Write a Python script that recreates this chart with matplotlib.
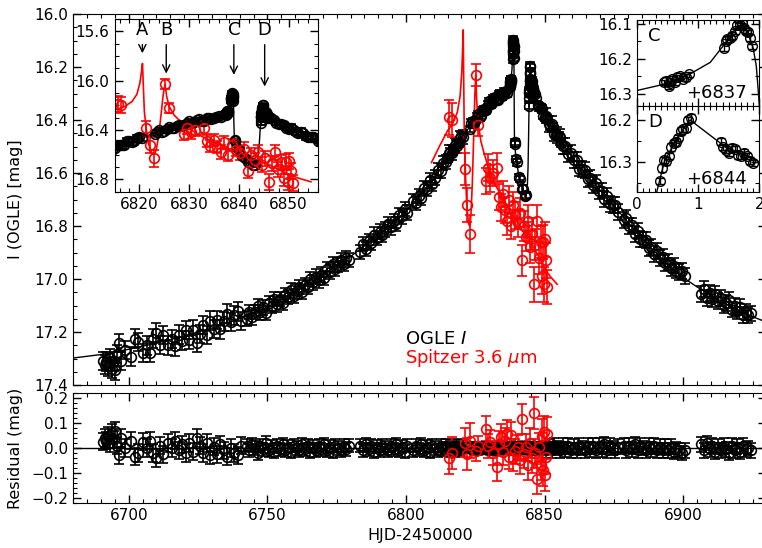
import numpy as np
import matplotlib.pyplot as plt
from matplotlib.ticker import MultipleLocator

# ── 1. Data ───────────────────────────────────────────────────────────────
# OGLE I-band photometry: time, magnitude, residual from the model
ogle_t = [
    # early season, sparse
    6690.8, 6691.3, 6691.9, 6692.6, 6693.2, 6693.8, 6694.5, 6695.1, 6695.8, 6696.4, 6697.2, 6698.5,
    6700.8, 6702.3, 6703.5, 6705.0, 6706.4, 6707.6, 6708.9, 6710.0, 6711.2, 6712.5, 6714.3, 6715.6,
    6716.8, 6718.0, 6719.3, 6720.6, 6721.8, 6723.0, 6724.5, 6725.7, 6726.9, 6728.1, 6729.4, 6730.6,
    6731.8, 6733.0, 6734.2, 6735.4, 6736.7, 6738.0, 6739.3, 6740.5,
    # dense rising part
    6742.5, 6743.5, 6744.5, 6745.5, 6746.5, 6747.5, 6748.5, 6749.5, 6750.5, 6751.5,
    6752.5, 6753.5, 6754.5, 6755.5, 6756.5, 6757.5, 6758.5, 6759.5, 6760.5, 6761.5,
    6762.5, 6763.5, 6764.5, 6765.5, 6766.5, 6767.5, 6768.5, 6769.5, 6770.5, 6771.5,
    6772.5, 6773.5, 6774.5, 6775.5, 6776.5, 6777.5, 6778.5, 6779.5,
    6783.5, 6784.5, 6785.5, 6786.5, 6787.5, 6788.5, 6789.5, 6790.5, 6791.5, 6792.5, 6793.5, 6794.5,
    6795.5, 6796.5, 6797.5, 6798.5, 6799.5, 6800.5,
    6802.5, 6803.5, 6804.5, 6805.5, 6806.5, 6807.5, 6808.5, 6809.5, 6810.5, 6811.5,
    6812.5, 6813.5, 6814.5, 6815.5, 6816.5, 6817.5, 6818.5, 6819.5, 6820.5,
    # around the caustic crossings
    6823.2, 6824.0, 6825.0, 6826.0, 6827.0, 6828.0, 6829.0, 6830.0, 6831.0, 6832.0, 6833.0, 6834.0,
    6835.0, 6836.0,
    6837.45, 6837.55, 6837.65, 6837.75, 6837.85, 6838.45, 6838.52, 6838.60, 6838.68, 6838.75,
    6838.82, 6838.88,
    6839.15, 6839.3, 6839.6, 6840.0, 6840.6, 6841.2, 6841.8, 6842.3, 6842.8, 6843.2,
    6844.38, 6844.45, 6844.52, 6844.60, 6844.68, 6844.76, 6844.84,
    6845.4, 6845.5, 6845.6, 6845.7, 6845.8, 6845.9,
    6846.5, 6847.5, 6848.5, 6849.5,
    # decline
    6850.5, 6851.5, 6852.5, 6853.5, 6854.5, 6855.5, 6856.5, 6857.5, 6858.5, 6859.5,
    6860.5, 6861.5, 6862.5, 6863.5, 6864.5, 6865.5, 6866.5, 6867.5, 6868.5,
    6869.5, 6870.5, 6871.5, 6872.5, 6873.5, 6874.5, 6875.5, 6876.3,
    6878.5, 6879.5, 6880.5, 6881.5, 6882.5, 6883.5, 6884.5, 6885.5, 6886.5, 6887.5,
    6888.5, 6889.5, 6890.5, 6891.5, 6892.5, 6893.3,
    6894.5, 6895.5, 6896.5, 6897.5, 6898.5, 6899.5, 6900.5,
    6906.5, 6907.5, 6908.5, 6909.5, 6910.5, 6911.5, 6912.5, 6913.5, 6914.5, 6915.5,
    6916.5, 6917.5, 6918.5, 6919.5, 6920.5, 6921.5, 6922.5, 6923.5, 6924.5,
]
ogle_mag = [
    17.309, 17.323, 17.312, 17.330, 17.299, 17.338, 17.311, 17.345, 17.283, 17.242, 17.310, 17.268,
    17.293, 17.225, 17.237, 17.279, 17.250, 17.278, 17.225, 17.202, 17.249, 17.211, 17.250, 17.227,
    17.254, 17.210, 17.232, 17.193, 17.230, 17.191, 17.241, 17.208, 17.174, 17.211, 17.157, 17.188,
    17.154, 17.190, 17.160, 17.131, 17.162, 17.137, 17.122, 17.158,
    17.149, 17.124, 17.145, 17.125, 17.101, 17.126, 17.107, 17.127, 17.092, 17.102,
    17.076, 17.096, 17.075, 17.090, 17.059, 17.069, 17.043, 17.063, 17.047, 17.030,
    17.049, 17.022, 17.031, 16.999, 17.013, 16.991, 17.005, 16.983, 16.996, 16.964,
    16.972, 16.945, 16.963, 16.946, 16.929, 16.942, 16.920, 16.928,
    16.897, 16.869, 16.886, 16.858, 16.865, 16.832, 16.844, 16.821, 16.832, 16.813, 16.794, 16.805,
    16.781, 16.792, 16.758, 16.764, 16.735, 16.749,
    16.705, 16.713, 16.686, 16.694, 16.657, 16.660, 16.628, 16.641, 16.617, 16.590,
    16.593, 16.561, 16.559, 16.523, 16.523, 16.493, 16.498, 16.468, 16.463,
    16.433, 16.403, 16.405, 16.378, 16.386, 16.359, 16.362, 16.330, 16.336, 16.313, 16.324, 16.300,
    16.305, 16.290,
    16.267, 16.270, 16.253, 16.256, 16.244, 16.150, 16.140, 16.122, 16.105, 16.112,
    16.125, 16.165,
    16.483, 16.490, 16.547, 16.560, 16.614, 16.623, 16.659, 16.659, 16.686, 16.683,
    16.346, 16.295, 16.287, 16.254, 16.244, 16.222, 16.201,
    16.264, 16.278, 16.270, 16.286, 16.287, 16.304,
    16.301, 16.344, 16.350, 16.385,
    16.383, 16.414, 16.415, 16.451, 16.457, 16.463, 16.498, 16.498, 16.528, 16.523,
    16.552, 16.550, 16.583, 16.586, 16.589, 16.621, 16.618, 16.645, 16.637,
    16.669, 16.666, 16.698, 16.685, 16.717, 16.719, 16.721, 16.746,
    16.777, 16.769, 16.801, 16.798, 16.830, 16.817, 16.849, 16.851, 16.852, 16.883,
    16.879, 16.905, 16.895, 16.920, 16.915, 16.938,
    16.935, 16.960, 16.949, 16.968, 16.972, 16.971, 16.989,
    17.055, 17.036, 17.072, 17.054, 17.075, 17.056, 17.082, 17.073, 17.099, 17.090,
    17.080, 17.115, 17.100, 17.120, 17.105, 17.135, 17.125, 17.135, 17.130,
]
ogle_res = [
    0.025, 0.040, 0.030, 0.050, 0.020, 0.060, 0.035, 0.070, 0.010, -0.030, 0.040, 0.000,
    0.030, -0.035, -0.020, 0.025, 0.000, 0.030, -0.020, -0.040, 0.010, -0.025, 0.020, 0.000,
    0.030, -0.010, 0.015, -0.020, 0.020, -0.015, 0.040, 0.010, -0.020, 0.020, -0.030, 0.005,
    -0.025, 0.015, -0.010, -0.035, 0.000, -0.020, -0.030, 0.010,
    0.010, -0.010, 0.015, 0.000, -0.020, 0.010, -0.005, 0.020, -0.010, 0.005,
    -0.015, 0.010, -0.005, 0.015, -0.010, 0.005, -0.015, 0.010, 0.000, -0.010,
    0.015, -0.005, 0.010, -0.015, 0.005, -0.010, 0.010, -0.005, 0.015, -0.010,
    0.005, -0.015, 0.010, 0.000, -0.010, 0.010, -0.005, 0.010,
    0.010, -0.010, 0.015, -0.005, 0.010, -0.015, 0.005, -0.010, 0.010, 0.000, -0.010, 0.010,
    -0.005, 0.015, -0.010, 0.005, -0.015, 0.010,
    -0.010, 0.010, -0.005, 0.015, -0.010, 0.005, -0.015, 0.010, 0.000, -0.010,
    0.010, -0.005, 0.010, -0.010, 0.005, -0.010, 0.010, -0.005, 0.005,
    0.010, -0.010, 0.005, -0.010, 0.010, -0.005, 0.010, -0.010, 0.005, -0.010, 0.010, -0.005,
    0.005, -0.005,
    -0.005, 0.005, -0.005, 0.005, 0.000, -0.005, 0.005, 0.005, 0.000, 0.010,
    -0.005, 0.005,
    0.005, -0.010, 0.010, -0.005, 0.010, -0.005, 0.010, -0.005, 0.010, 0.000,
    0.005, -0.005, 0.005, -0.005, 0.005, 0.000, -0.005,
    0.005, 0.010, -0.005, 0.005, 0.000, 0.010,
    -0.010, 0.010, -0.005, 0.010,
    -0.010, 0.005, -0.010, 0.010, 0.000, -0.010, 0.010, -0.005, 0.010, -0.010,
    0.005, -0.010, 0.010, 0.000, -0.010, 0.010, -0.005, 0.010, -0.010,
    0.010, -0.005, 0.015, -0.010, 0.010, 0.000, -0.010, 0.005,
    0.010, -0.010, 0.010, -0.005, 0.015, -0.010, 0.010, 0.000, -0.010, 0.010,
    -0.005, 0.010, -0.010, 0.005, -0.010, 0.005,
    -0.010, 0.005, -0.015, -0.005, -0.010, -0.020, -0.010,
    0.015, -0.010, 0.020, -0.005, 0.010, -0.015, 0.005, -0.010, 0.010, -0.005,
    -0.020, 0.010, -0.010, 0.005, -0.015, 0.010, -0.005, 0.000, -0.010,
]
ogle_err = [0.035] * 44 + [0.027] * 75 + [0.012] * 53 + [0.03] * 69

# additional high-cadence OGLE epochs over the peak
peak_t = [6815.0, 6816.0, 6817.0, 6818.0, 6819.0, 6820.0,
          6823.6, 6824.5, 6825.5, 6826.5, 6827.5, 6828.5, 6829.5, 6830.5, 6831.5, 6832.5,
          6833.5, 6834.5, 6835.5, 6836.5,
          6837.48, 6837.52, 6837.58, 6837.62, 6837.70, 6837.80,
          6838.42, 6838.48, 6838.56, 6838.64, 6838.71, 6838.78, 6838.85,
          6844.41, 6844.48, 6844.56, 6844.64, 6844.72, 6844.80, 6844.88,
          6845.38, 6845.45, 6845.55, 6845.65, 6845.75, 6845.85,
          6847.0, 6848.0, 6849.0, 6850.0, 6851.0, 6852.0, 6853.0, 6854.0, 6855.0, 6856.0]
peak_mag = [16.545, 16.520, 16.518, 16.489, 16.485, 16.460,
            16.413, 16.413, 16.388, 16.387, 16.365, 16.364, 16.342, 16.341, 16.321, 16.323,
            16.306, 16.308, 16.293, 16.297,
            16.262, 16.276, 16.258, 16.266, 16.249, 16.253,
            16.168, 16.143, 16.134, 16.104, 16.098, 16.122, 16.140,
            16.315, 16.298, 16.265, 16.253, 16.226, 16.219, 16.196,
            16.252, 16.271, 16.266, 16.284, 16.279, 16.297,
            16.318, 16.351, 16.359, 16.390, 16.396, 16.423, 16.428, 16.455, 16.460, 16.486]
peak_res = [0.005, -0.005, 0.008, -0.006, 0.005, -0.005,
            -0.005, 0.006, -0.006, 0.005, -0.005, 0.006, -0.004, 0.005, -0.006, 0.005,
            -0.004, 0.005, -0.005, 0.004,
            -0.009, 0.008, -0.006, 0.005, -0.006, 0.006,
            0.007, -0.005, 0.007, -0.005, -0.005, 0.007, -0.005,
            -0.008, 0.006, -0.005, 0.005, -0.005, 0.005, -0.005,
            -0.006, 0.006, -0.005, 0.006, -0.005, 0.007,
            -0.005, 0.006, -0.006, 0.005, -0.005, 0.006, -0.005, 0.006, -0.005, 0.006]
peak_err = [0.015] * 56

# OGLE best-fit model light curve
model_t = [6680, 6690, 6700, 6710, 6720, 6730, 6740, 6750, 6760, 6770, 6780, 6790, 6800,
           6810, 6815, 6820, 6825, 6830, 6834, 6837, 6837.5, 6837.9, 6838.2, 6838.47,
           6838.63, 6838.74, 6838.82, 6838.9, 6838.95, 6839.0, 6839.1, 6839.5, 6840.5,
           6841.5, 6842.5, 6843.3, 6843.7, 6844.0, 6844.2, 6844.33, 6844.45, 6844.65,
           6844.87, 6845.45, 6846, 6848, 6850, 6855, 6860, 6865, 6870, 6875, 6880, 6885,
           6890, 6895, 6900, 6905, 6910, 6915, 6920, 6925, 6930]
model_mag = [17.298, 17.285, 17.265, 17.242, 17.215, 17.185, 17.150, 17.105, 17.050,
             16.985, 16.915, 16.835, 16.745, 16.625, 16.540, 16.465, 16.400, 16.340,
             16.305, 16.290, 16.270, 16.240, 16.210, 16.150, 16.110, 16.100, 16.130,
             16.170, 16.220, 16.330, 16.470, 16.530, 16.600, 16.640, 16.670, 16.685,
             16.665, 16.580, 16.460, 16.370, 16.300, 16.245, 16.200, 16.265, 16.300,
             16.345, 16.385, 16.465, 16.540, 16.605, 16.665, 16.725, 16.785, 16.845,
             16.900, 16.950, 16.995, 17.030, 17.062, 17.092, 17.118, 17.142, 17.163]

# Spitzer 3.6 micron photometry (on the OGLE scale of the main panel)
spz_t = [6815.6, 6816.4, 6821.3, 6822.1, 6823.0, 6825.2, 6826.0, 6828.9, 6829.5, 6830.3,
         6831.2, 6832.9, 6833.6, 6834.3, 6835.0, 6835.7, 6836.4, 6837.1, 6837.8, 6838.6,
         6839.4, 6840.2, 6841.0, 6841.8, 6842.5, 6843.2, 6843.9, 6844.6, 6845.3, 6846.0,
         6846.6, 6847.2, 6847.9, 6848.5, 6849.0, 6849.4, 6849.8, 6850.1, 6850.5, 6850.8]
spz_mag = [16.39, 16.40, 16.585, 16.72, 16.83, 16.23, 16.42, 16.63, 16.58, 16.62,
           16.60, 16.58, 16.69, 16.73, 16.68, 16.74, 16.78, 16.70, 16.80, 16.72,
           16.76, 16.79, 16.75, 16.93, 16.80, 16.84, 16.78, 16.88, 16.83, 17.02,
           16.87, 16.78, 16.92, 16.86, 16.99, 16.86, 17.02, 16.85, 16.93, 17.03]
spz_err = [0.065, 0.065, 0.06, 0.065, 0.07, 0.04, 0.04, 0.05, 0.05, 0.05,
           0.05, 0.055, 0.05, 0.05, 0.05, 0.05, 0.055, 0.05, 0.05, 0.05,
           0.05, 0.05, 0.055, 0.06, 0.055, 0.055, 0.06, 0.06, 0.06, 0.065,
           0.06, 0.06, 0.06, 0.06, 0.065, 0.065, 0.065, 0.065, 0.065, 0.065]
spz_res = [-0.041, -0.019, 0.022, -0.023, 0.030, -0.014, 0.010, 0.078, 0.008, 0.023,
           -0.020, -0.078, 0.018, 0.045, -0.017, 0.030, 0.058, -0.035, 0.053, -0.042,
           -0.014, 0.003, -0.050, 0.117, -0.025, 0.003, -0.068, 0.021, -0.040, 0.140,
           -0.022, -0.124, 0.002, -0.070, 0.050, -0.088, 0.064, -0.110, -0.038, 0.058]

# Spitzer model light curve
spz_model_t = [6809.2, 6812.0, 6815.0, 6817.0, 6818.5, 6819.5, 6820.1, 6820.45, 6820.62,
               6820.8, 6821.0, 6821.4, 6821.9, 6822.5, 6823.0, 6823.4, 6823.9, 6824.4,
               6824.8, 6825.15, 6825.5, 6826.0, 6827.0, 6828.0, 6830.0, 6832.0, 6834.0,
               6836.3, 6838.5, 6841.0, 6844.0, 6846.0, 6848.0, 6850.0, 6852.0, 6854.5]
spz_model_mag = [16.56, 16.50, 16.44, 16.41, 16.37, 16.31, 16.22, 16.12, 16.06,
                 16.25, 16.45, 16.60, 16.72, 16.79, 16.80, 16.76, 16.64, 16.46,
                 16.31, 16.23, 16.33, 16.41, 16.48, 16.52, 16.59, 16.64, 16.68,
                 16.72, 16.76, 16.80, 16.85, 16.88, 16.92, 16.96, 16.99, 17.02]

# the zoomed inset shows Spitzer shifted by this many magnitudes
inset_shift = -0.2

# caustic labels in the left inset: (label, time, arrow tip mag)
caustic_labels = ["A", "B", "C", "D"]
caustic_t = [6820.6, 6825.4, 6839.0, 6845.2]
caustic_tip = [15.80, 15.965, 15.975, 16.07]

# ── 2. Style helpers ──────────────────────────────────────────────────────
all_t = np.array(ogle_t + peak_t)
all_mag = np.array(ogle_mag + peak_mag)
all_res = np.array(ogle_res + peak_res)
all_err = np.array(ogle_err + peak_err)
spz_mag_inset = np.array(spz_mag) + inset_shift
spz_model_inset = np.array(spz_model_mag) + inset_shift

ebar = dict(fmt="o", ms=7, mfc="none", capsize=3.5, elinewidth=1.2,
            mew=1.2, capthick=1.2)


def style(a, xmaj, xmin, ymaj, ymin):
    a.xaxis.set_major_locator(MultipleLocator(xmaj))
    a.xaxis.set_minor_locator(MultipleLocator(xmin))
    a.yaxis.set_major_locator(MultipleLocator(ymaj))
    a.yaxis.set_minor_locator(MultipleLocator(ymin))
    a.tick_params(which="both", direction="in", top=True, right=True, labelsize=11)
    a.tick_params(which="major", length=6, width=1)
    a.tick_params(which="minor", length=3, width=0.8)


# ── 3. Figure ─────────────────────────────────────────────────────────────
fig = plt.figure(figsize=(7.62, 5.48), dpi=100)
ax = fig.add_axes([0.0962, 0.2974, 0.9097, 0.677])
axr = fig.add_axes([0.0962, 0.0827, 0.9097, 0.1996], sharex=ax)

# main light curve
ax.errorbar(all_t, all_mag, yerr=all_err, color="k", **ebar)
ax.plot(model_t, model_mag, "k-", lw=1)
ax.errorbar(spz_t, spz_mag, yerr=spz_err, color="r", **ebar)
ax.plot(spz_model_t, spz_model_mag, "r-", lw=1.2)
ax.set_xlim(6680, 6930)
ax.set_ylim(17.4, 16.0)
style(ax, 50, 5, 0.2, 0.05)
ax.tick_params(labelbottom=False)
ax.set_ylabel("I (OGLE) [mag]", fontsize=11.5)
ax.yaxis.set_label_coords(-0.072, 0.5)
ax.text(0.4785, 0.124, "OGLE $I$", transform=ax.transAxes, fontsize=13, va="center")
ax.text(0.4785, 0.074, r"Spitzer 3.6 $\mu$m", transform=ax.transAxes, fontsize=13,
        va="center", color="r")

# residuals
axr.axhline(0, color="k", lw=1)
axr.errorbar(all_t, all_res, yerr=all_err, color="k", **ebar)
axr.errorbar(spz_t, spz_res, yerr=spz_err, color="r", **ebar)
axr.set_ylim(-0.22, 0.22)
style(axr, 50, 5, 0.1, 0.02)
axr.set_ylabel("Residual (mag)", fontsize=11.5)
axr.yaxis.set_label_coords(-0.072, 0.5)
axr.set_xlabel("HJD-2450000", fontsize=11.5)

# inset: zoom on the caustic crossings
ins = fig.add_axes([0.1503, 0.6502, 0.2675, 0.3151])
ins.errorbar(all_t, all_mag, yerr=all_err, color="k", **ebar)
ins.plot(model_t, model_mag, "k-", lw=1)
ins.errorbar(spz_t, spz_mag_inset, yerr=spz_err, color="r", **ebar)
ins.plot(spz_model_t, spz_model_inset, "r-", lw=1.2)
ins.set_xlim(6815, 6856)
ins.set_ylim(16.9, 15.5)
style(ins, 10, 2, 0.4, 0.1)
for lab, tc, tip in zip(caustic_labels, caustic_t, caustic_tip):
    ins.annotate(lab, xy=(tc, tip), xytext=(tc, 15.59), ha="center", va="center",
                 fontsize=13, arrowprops=dict(arrowstyle="->", color="k", lw=1))

# insets C and D: close-ups of the two OGLE caustic features
for box, t0, ylim, lab in [([0.8356, 0.8071, 0.1609, 0.1564], 6837, (16.333, 16.09), "C"),
                           ([0.8356, 0.6491, 0.1609, 0.1580], 6844, (16.373, 16.166), "D")]:
    a = fig.add_axes(box)
    sel = (all_t > t0) & (all_t < t0 + 2)
    a.errorbar(all_t[sel] - t0, all_mag[sel], yerr=all_err[sel] * 0.6, color="k",
               fmt="o", ms=7, mfc="none", capsize=3, elinewidth=1, mew=1, capthick=1)
    a.plot(np.array(model_t) - t0, model_mag, "k-", lw=1)
    a.set_xlim(0, 2)
    a.set_ylim(*ylim)
    style(a, 1, 0.1, 0.1, 0.05)
    a.text(0.09, 0.81, lab, transform=a.transAxes, fontsize=13, va="center")
    a.text(0.90, 0.15, f"+{t0}", transform=a.transAxes, fontsize=13, va="center", ha="right")
    if lab == "C":
        a.tick_params(labelbottom=False)

fig.savefig("out.png", dpi=100)
